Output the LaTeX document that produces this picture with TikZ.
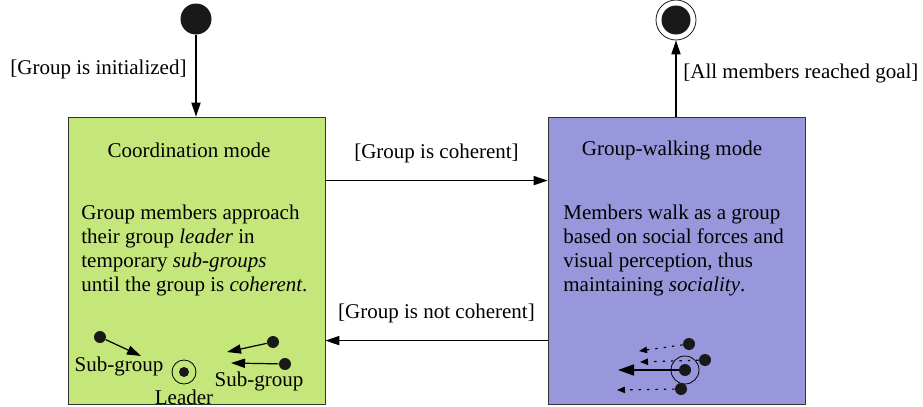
\documentclass[tikz,border=0pt]{standalone}
\usepackage{fontspec}
\setmainfont{Liberation Serif}
\usetikzlibrary{arrows.meta,positioning}
\definecolor{coordgreen}{RGB}{197,230,122}
\definecolor{walkpurple}{RGB}{153,151,220}
\tikzset{% styles for the state chart
  statebox/.style={draw=black!80, minimum width=128.5pt, minimum height=143.5pt, inner sep=0pt},
  trans/.style={-{Triangle[length=7pt,width=4.6pt]}, semithick},
  walkdot/.style={semithick, dash pattern=on 1.2pt off 3pt, -{Triangle[length=4pt,width=3.2pt]}},
  blob/.style={circle, fill=black!90, inner sep=0pt, minimum size=6pt},
  bodytext/.style={anchor=north west, align=left, inner sep=0pt, font=\fontsize{10.5}{12}\selectfont}
}

\begin{document}
\begin{tikzpicture}[x=0.5pt, y=-0.5pt, font=\fontsize{10.5}{12}\selectfont]
\useasboundingbox (0,0) rectangle (923,407);
% coordinates to be reused
\coordinate (S) at (196,19);
\coordinate (F) at (676,20);
\coordinate (L) at (184,372);
\coordinate (P) at (685,370);

% initial and final state
\node [circle, fill=black!90, minimum size=15.5pt, inner sep=0pt] (start) at (S) {};
\node [circle, draw=black!90, minimum size=20pt, inner sep=0pt] (final) at (F) {};
\node [circle, fill=black!90, minimum size=14.5pt, inner sep=0pt] at (F) {};

% the two modes
\node [statebox, fill=coordgreen] (coord) at (196.5,260.5) {};
\node [statebox, fill=walkpurple] (walk) at (676.5,260.5) {};

\node at (189,150) {Coordination mode};
\node at (672,150) {Group-walking mode};
\node [bodytext] at (81,205) {Group members approach\\their group \textit{leader} in\\temporary \textit{sub-groups}\\until the group is \textit{coherent}.};
\node [bodytext] at (563,205) {Members walk as a group\\based on social forces and\\visual perception, thus\\maintaining \textit{sociality}.};

% transitions
\draw [trans] (start) -- (coord.north -| start);
\node [anchor=base west, inner sep=0pt] at (10,75) {[Group is initialized]};
\draw [trans] (walk.north -| final) -- (final);
\node [anchor=base west, inner sep=0pt] at (683,78) {[All members reached goal]};
\draw [trans] ([yshift=-32pt]coord.north east) -- ([yshift=-32pt]walk.north west)
  node [midway, above=5pt] {[Group is coherent]};
\draw [trans] ([yshift=-112pt]walk.north west) -- ([yshift=-112pt]coord.north east)
  node [midway, above=5pt] {[Group is not coherent]};

% sub-groups moving to the leader
\node [circle, draw, minimum size=12pt, inner sep=0pt] (leader) at (L) {};
\node [blob, minimum size=5pt] at (L) {};
\node [below=-1pt of leader] {Leader};
\node [blob] (a1) at (100,337) {};
\node [blob] (a2) at (273,342) {};
\node [blob] (a3) at (285,364) {};
\coordinate (a1e) at (141,356);
\coordinate (a2e) at (227,352);
\coordinate (a3e) at (231,363);
\draw [trans] (a1) -- (a1e);
\draw [trans] (a2) -- (a2e);
\draw [trans] (a3) -- (a3e);
\node at (119,366) {Sub-group};
\node at (259,381) {Sub-group};

% group walking together
\node [circle, draw, minimum size=14pt, inner sep=0pt] (pg) at (P) {};
\node [blob] (p0) at (P) {};
\node [blob] (p1) at (689,344) {};
\node [blob] (p2) at (705,360) {};
\node [blob] (p3) at (681,389) {};
\coordinate (p0e) at (618,370);
\coordinate (p1e) at (639,351);
\coordinate (p2e) at (640,362);
\coordinate (p3e) at (617,390);
\draw [thick, -{Triangle[length=8pt,width=5.5pt]}] (p0) -- (p0e);
\draw [walkdot] (p1) -- (p1e);
\draw [walkdot] (p2) -- (p2e);
\draw [walkdot] (p3) -- (p3e);
\end{tikzpicture}
\end{document}
